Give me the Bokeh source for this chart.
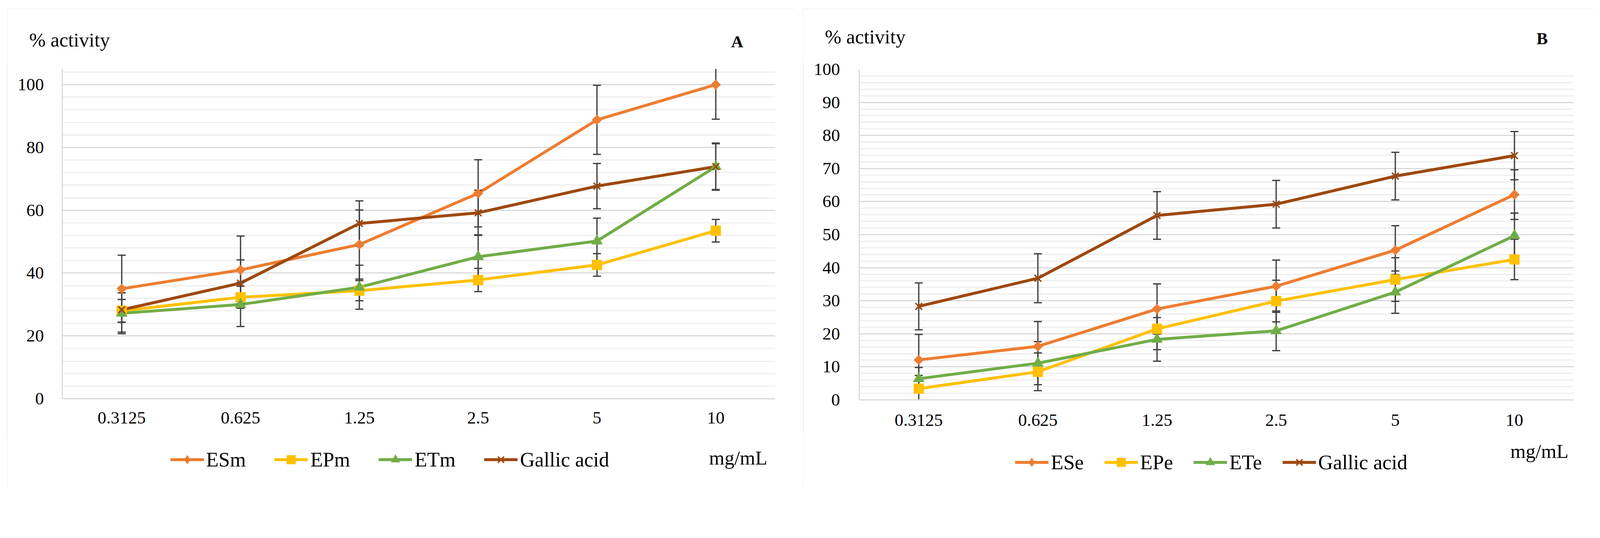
import math
from bokeh.plotting import figure
from bokeh.models import (ColumnDataSource, Legend, LegendItem, Label,
                          SingleIntervalTicker, Range1d, Spacer)
from bokeh.layouts import row, column
from bokeh.embed import file_html
from bokeh.resources import INLINE

# ---------------- data ----------------
conc = ["0.3125", "0.625", "1.25", "2.5", "5", "10"]

# Panel A (methanolic extracts)
esm = [35.0, 41.0, 49.1, 65.4, 88.8, 100.0]
esm_err = [10.7, 10.8, 11.0, 10.7, 11.0, 11.0]
epm = [28.0, 32.3, 34.4, 37.8, 42.6, 53.5]
epm_err = [3.6, 3.5, 3.2, 3.7, 3.6, 3.6]
etm = [27.2, 30.0, 35.5, 45.2, 50.2, 73.9]
etm_err = [6.5, 7.0, 7.0, 7.0, 7.3, 7.5]

# Gallic acid (reference, both panels)
gallic = [28.3, 36.8, 55.8, 59.2, 67.7, 73.9]
gallic_err = [7.1, 7.4, 7.2, 7.2, 7.2, 7.3]

# Panel B (ethanolic extracts)
ese = [12.1, 16.2, 27.5, 34.4, 45.3, 62.1]
ese_err = [7.7, 7.5, 7.6, 7.9, 7.4, 7.5]
epe = [3.4, 8.5, 21.5, 29.9, 36.4, 42.5]
epe_err = [4.0, 5.7, 6.3, 6.3, 6.6, 6.1]
ete = [6.4, 11.1, 18.3, 20.9, 32.6, 49.7]
ete_err = [3.4, 6.5, 6.6, 6.0, 6.4, 6.8]

names_a = ["ESm", "EPm", "ETm", "Gallic acid"]
names_b = ["ESe", "EPe", "ETe", "Gallic acid"]

colors = ["#ED7D31", "#FFC000", "#70AD47", "#9E480E"]

# ---------------- layout helpers (page is shown slightly zoomed) ----------------
Z = 1.068


def c(v):
    return v / Z


def px(v):
    return "%.1fpx" % c(v)


# marker, angle, size (in target pixels)
markers = [("square", math.pi / 4, 19), ("square", 0.0, 27),
           ("triangle", 0.0, 30), ("x", 0.0, 26)]
legend_markers = ["diamond", "square", "triangle", "x"]

FONT = "Liberation Serif"
ERR_COLOR = "#404040"
Y0, Y1 = 32, 1338          # outline top / bottom
HEAD_BOT = 172
NAN = float("nan")


def bare_figure(W, H):
    f = figure(width=W, height=H, output_backend="svg",
               toolbar_location=None, x_axis_type=None, y_axis_type=None,
               x_range=Range1d(0, 1), y_range=Range1d(0, 1), min_border=0,
               frame_align=False)
    f.outline_line_color = None
    f.grid.visible = False
    return f


def make_header(X0, X1, act, letter, let):
    W = int(round(c(X1 - X0)))
    H = int(round(c(HEAD_BOT - Y0)))
    h = bare_figure(W, H)
    h.add_layout(Label(x=c(act[0] - X0), y=c(HEAD_BOT - act[1]),
                       x_units="screen", y_units="screen", text="% activity",
                       text_font=FONT, text_font_size=px(54), text_color="black",
                       text_baseline="alphabetic", text_align="left"))
    h.add_layout(Label(x=c(let[0] - X0), y=c(HEAD_BOT - let[1]),
                       x_units="screen", y_units="screen", text=letter,
                       text_font=FONT, text_font_size=px(46),
                       text_font_style="bold", text_color="black",
                       text_baseline="alphabetic", text_align="center"))
    return h


def make_main(X0, X1, foot_top, frame, ymax, yint, vals, errs, xstand, ystand):
    fl, fr, ft, fb = frame
    W = int(round(c(X1 - X0)))
    H = int(round(c(foot_top - HEAD_BOT)))
    left = int(round(c(fl - X0)))
    right = int(round(c(X1 - fr)))
    top = int(round(c(ft - HEAD_BOT)))
    fh = int(round(c(fb - ft)))
    bottom = H - top - fh
    p = figure(x_range=conc, y_range=Range1d(0, ymax), width=W, height=H,
               output_backend="svg", toolbar_location=None,
               min_border_left=left, min_border_right=right,
               min_border_top=top, min_border_bottom=bottom,
               frame_align=False)
    p.outline_line_color = None
    p.background_fill_color = "white"
    p.border_fill_color = "white"

    p.xgrid.grid_line_color = None
    p.yaxis.ticker = SingleIntervalTicker(interval=yint, num_minor_ticks=5)
    p.ygrid.grid_line_color = "#d9d9d9"
    p.ygrid.grid_line_width = c(3)
    p.ygrid.minor_grid_line_color = "#eeeeee"
    p.ygrid.minor_grid_line_width = c(3)

    for ax in (p.xaxis[0], p.yaxis[0]):
        ax.axis_line_color = "#d9d9d9"
        ax.axis_line_width = c(3)
        ax.major_tick_line_color = None
        ax.minor_tick_line_color = None
        ax.major_label_text_font = FONT
        ax.major_label_text_font_size = px(48)
        ax.major_label_text_color = "black"
    p.yaxis.major_label_standoff = int(round(c(ystand)))
    p.xaxis.major_label_standoff = int(round(c(xstand)))

    for v, col in zip(vals, colors):
        p.line(conc, v, line_color=col, line_width=c(8))
    for v, e in zip(vals, errs):
        lo = [a - b for a, b in zip(v, e)]
        hi = [a + b for a, b in zip(v, e)]
        src = ColumnDataSource(dict(x=conc, lo=lo, hi=hi))
        p.segment(x0="x", y0="lo", x1="x", y1="hi", source=src,
                  line_color=ERR_COLOR, line_width=c(3.5))
        p.scatter(x="x", y="lo", source=src, marker="dash", size=c(22),
                  line_color=ERR_COLOR, line_width=c(3.5))
        p.scatter(x="x", y="hi", source=src, marker="dash", size=c(22),
                  line_color=ERR_COLOR, line_width=c(3.5))
    for v, col, (m, ang, sz) in zip(vals, colors, markers):
        lw = c(4) if m == "x" else 1
        p.scatter(conc, v, marker=m, angle=ang, size=c(sz),
                  fill_color=col, line_color=col, line_width=lw)
    return p


def make_footer(X0, X1, foot_top, names, leg_left, leg_cy, spacing,
                unit_left, unit_base):
    W = int(round(c(X1 - X0)))
    H = int(round(c(Y1 - foot_top)))
    f = bare_figure(W, H)
    items = []
    for n, col, m in zip(names, colors, legend_markers):
        # legend keys only (no data shown in this strip)
        src = ColumnDataSource(dict(x=[NAN], y=[NAN]))
        lr = f.line(x="x", y="y", source=src, line_color=col, line_width=c(8))
        lw = c(4) if m == "x" else 1
        mr = f.scatter(x="x", y="y", source=src, marker=m, size=c(26),
                       fill_color=col, line_color=col, line_width=lw)
        items.append(LegendItem(label=n, renderers=[lr, mr]))
    gh = 56
    leg = Legend(items=items, orientation="horizontal",
                 location=(c(leg_left - X0), c(Y1 - leg_cy) - gh / 2),
                 label_text_font=FONT, label_text_font_size=px(56),
                 label_text_color="black",
                 glyph_width=int(round(c(92))), glyph_height=gh, label_height=gh,
                 label_standoff=6, spacing=spacing, padding=0, margin=0,
                 border_line_color=None, background_fill_alpha=0)
    f.add_layout(leg, "center")
    f.add_layout(Label(x=c(unit_left - X0), y=c(Y1 - unit_base),
                       x_units="screen", y_units="screen", text="mg/mL",
                       text_font=FONT, text_font_size=px(54), text_color="black",
                       text_baseline="alphabetic", text_align="left"))
    return f


OUTLINE = {"outline": "%.1fpx solid #d9d9d9" % c(3),
           "outline-offset": "-%.1fpx" % c(3)}

AX0, AX1 = 28, 2181
BX0, BX1 = 2204, 4366
FOOT_A, FOOT_B = 1208, 1192

hA = make_header(AX0, AX1, (88, 117), "A", (2024, 122))
pA = make_main(AX0, AX1, FOOT_A, (179, 2128, 196.5, 1098), 105, 20,
               [esm, epm, etm, gallic], [esm_err, epm_err, etm_err, gallic_err],
               xstand=30, ystand=44)
fA = make_footer(AX0, AX1, FOOT_A, names_a, 474, 1266, 73, 1947, 1259)

hB = make_header(BX0, BX1, (2263, 108), "B", (4224, 113))
pB = make_main(BX0, BX1, FOOT_B, (2357, 4312, 198, 1101), 100, 10,
               [ese, epe, ete, gallic], [ese_err, epe_err, ete_err, gallic_err],
               xstand=33, ystand=46)
fB = make_footer(BX0, BX1, FOOT_B, names_b, 2783, 1274, 52, 4137, 1241)

colA = column(hA, pA, fA, styles=OUTLINE)
colB = column(hB, pB, fB, styles=OUTLINE)

layout = column(Spacer(height=int(round(c(Y0) - 8)), width=10),
                row(Spacer(width=int(round(c(AX0) - 8)), height=10), colA,
                    Spacer(width=int(round(c(BX0 - AX1))), height=10), colB))

open("out.html", "w").write(file_html(layout, INLINE))
